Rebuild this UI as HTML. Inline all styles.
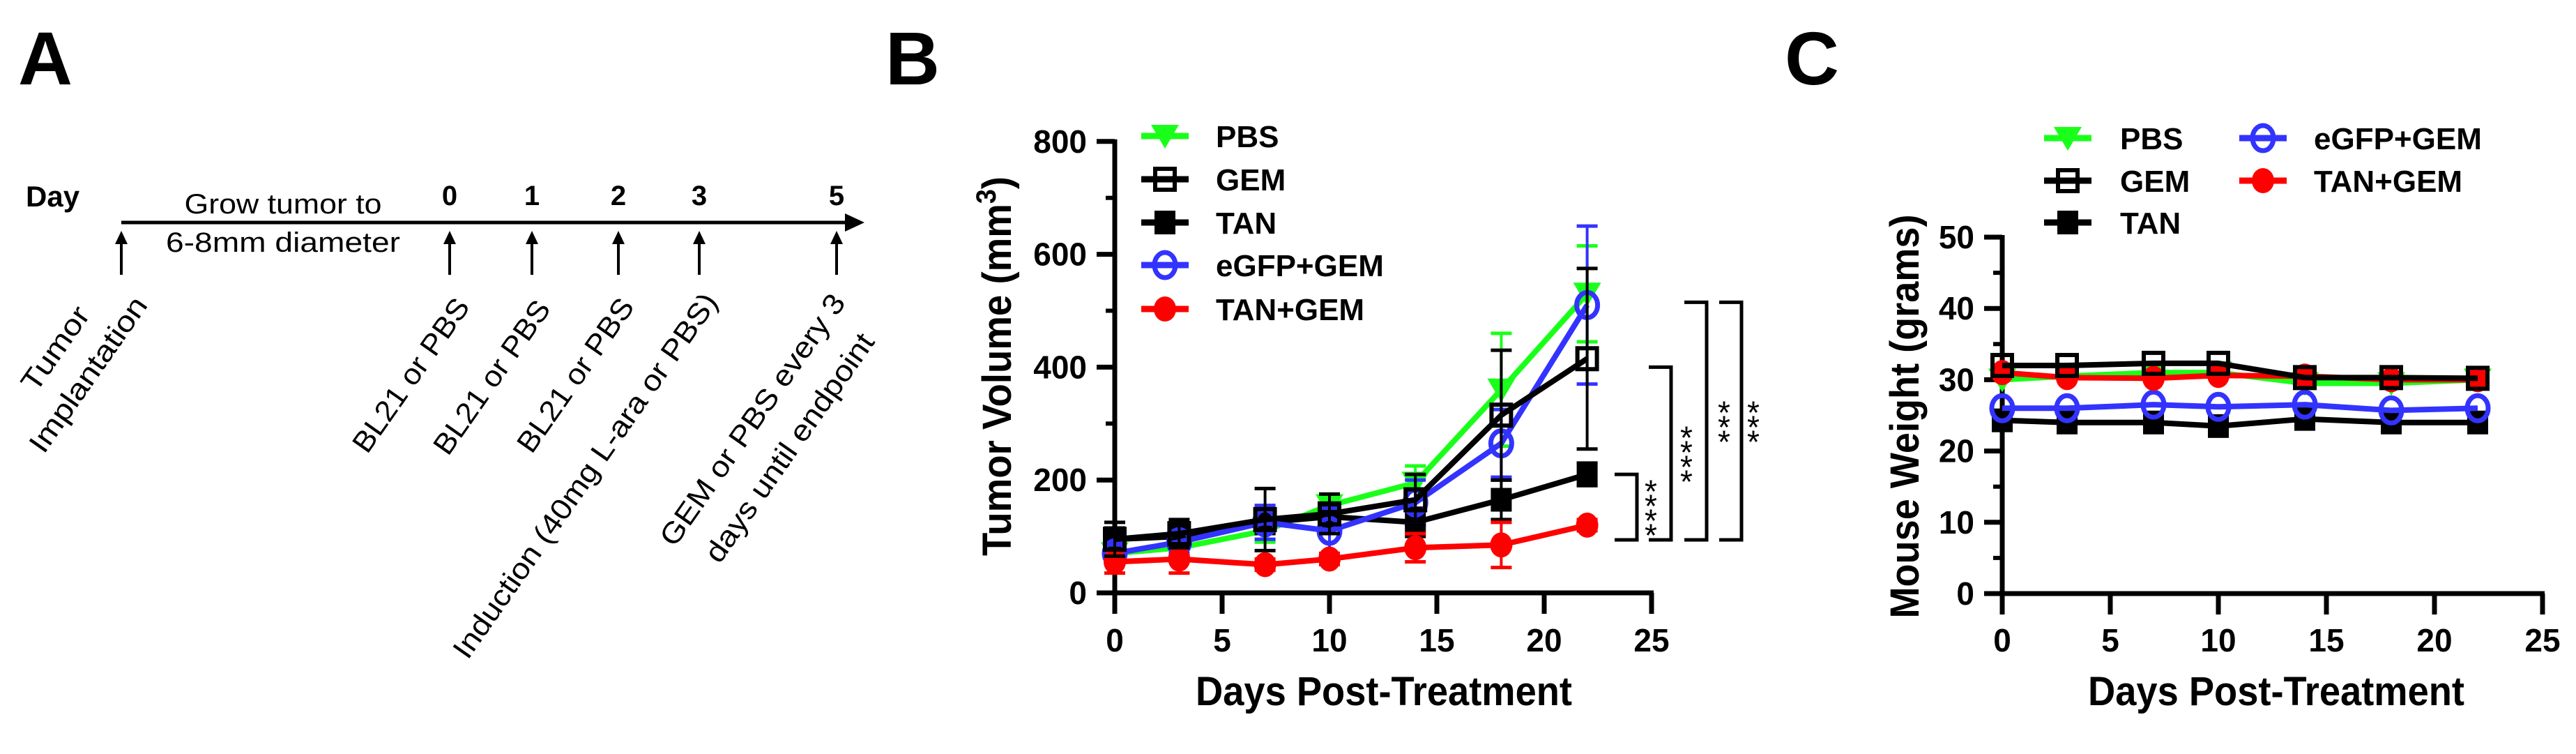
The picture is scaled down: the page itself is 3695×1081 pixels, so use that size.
<!DOCTYPE html>
<html><head><meta charset="utf-8"><style>
html,body{margin:0;padding:0;background:#fff;}
svg{display:block;}
text{font-family:"Liberation Sans",Arial,sans-serif;}
.b{font-weight:bold;}
</style></head><body>
<svg id="fig" width="3695" height="1081" viewBox="0 0 3695 1081" xmlns="http://www.w3.org/2000/svg">
<rect width="3695" height="1081" fill="#fff"/>
<text class="b" x="26" y="121" font-size="108">A</text>
<text class="b" x="1270" y="121" font-size="108">B</text>
<text class="b" x="2560" y="121" font-size="108">C</text>

<g id="panelA">
<text class="b" x="37" y="296" font-size="42">Day</text>
<line x1="174" y1="319" x2="1215" y2="319" stroke="#000" stroke-width="5"/>
<polygon points="1240,319 1212,306 1212,332" fill="#000"/>
<text x="406" y="306" font-size="40" text-anchor="middle" textLength="283" lengthAdjust="spacingAndGlyphs">Grow tumor to</text>
<text x="406" y="361" font-size="40" text-anchor="middle" textLength="336" lengthAdjust="spacingAndGlyphs">6-8mm diameter</text>
</g>

<g id="panelB"></g>
<g id="panelC"></g>
</svg>
<script>
const NS="http://www.w3.org/2000/svg";
function mk(parent,tag,attrs,txt){const e=document.createElementNS(NS,tag);for(const k in attrs)e.setAttribute(k,attrs[k]);if(txt!==undefined)e.textContent=txt;parent.appendChild(e);return e;}

// ---------- Panel A timeline data ----------
const timelineDays=["0","1","2","3","5"];
const timelineX=[645,763,887,1003,1200];
const A=document.getElementById('panelA');
function arrow(x,name){
  const g=mk(A,'g',{});
  
  
  mk(g,'line',{x1:x,y1:394,x2:x,y2:345,stroke:'#000','stroke-width':4});
  mk(g,'polygon',{points:`${x},331 ${x-9},350 ${x+9},350`,fill:'#000'});
}
arrow(174,'implantation-arrow');
timelineDays.forEach((d,i)=>{
  arrow(timelineX[i],'day-'+d+'-arrow');
  const t=mk(A,'text',{x:timelineX[i],y:294,'font-size':40,'text-anchor':'middle','class':'b'},d);
  
  
});
const rot=[
 ["Tumor",91,508,138,"tumor-implantation-label"],
 ["Implantation",138,545,262,"tumor-implantation-label-2"],
 ["BL21 or PBS",601,546,259,"day0-treatment-label"],
 ["BL21 or PBS",717,549,259,"day1-treatment-label"],
 ["BL21 or PBS",837,546,259,"day2-treatment-label"],
 ["Induction (40mg L-ara or PBS)",851,690,628,"induction-label"],
 ["GEM or PBS every 3",1091,610,430,"gem-schedule-label"],
 ["days until endpoint",1144,650,390,"gem-schedule-label-2"]
];
rot.forEach(r=>{
  const t=mk(A,'text',{x:r[1],y:r[2],'font-size':42,'text-anchor':'middle',textLength:r[3],lengthAdjust:'spacingAndGlyphs',transform:`rotate(-55 ${r[1]} ${r[2]})`},r[0]);
  
  
});

// ---------- Chart data ----------
const days=[0,3,7,10,14,18,22];
const seriesNames=["PBS","GEM","TAN","eGFP+GEM","TAN+GEM"];
const volPBS=[70,80,110,155,195,360,530];
const volGEM=[95,105,130,140,165,315,415];
const volTAN=[95,100,125,135,125,165,210];
const volEGFP=[70,90,125,110,160,265,510];
const volTANGEM=[55,60,50,60,80,85,120];
const errPBS=[10,15,20,20,30,100,85];
const errGEM=[30,25,55,35,45,115,160];
const errTAN=[20,15,20,15,25,35,20];
const errEGFP=[15,20,30,40,40,60,140];
const errTANGEM=[20,25,10,10,25,40,10];
const wPBS=[30,30.5,31,31,29.5,29.5,30];
const wGEM=[32,32,32.3,32.3,30.3,30.3,30.2];
const wTAN=[24.3,24,24,23.5,24.5,24,24];
const wEGFP=[26,26,26.5,26.2,26.5,25.7,26];
const wTANGEM=[31,30.3,30.2,30.6,30.5,30,30];
const xTicks=[0,5,10,15,20,25];
const yTicksB=[0,200,400,600,800];
const yTicksC=[0,10,20,30,40,50];
// significance: [lowerValue, upperValue, label]
const sigLow=[120,120,120,120];
const sigHigh=[210,400,515,515];
const sigLabel=["****","****","***","***"];

const styles={
 "PBS":{c:"#1aff1a",m:"tri"},
 "GEM":{c:"#000",m:"osq"},
 "TAN":{c:"#000",m:"sq"},
 "eGFP+GEM":{c:"#3333ff",m:"oc"},
 "TAN+GEM":{c:"#ff0000",m:"c"}
};
function marker(g,type,col,x,y){
  if(type==='tri') return mk(g,'polygon',{points:`${x-20},${y-16} ${x+20},${y-16} ${x},${y+18}`,fill:col});
  if(type==='osq') return mk(g,'rect',{x:x-14,y:y-15,width:28,height:30,fill:'none',stroke:col,'stroke-width':6});
  if(type==='sq') return mk(g,'rect',{x:x-15,y:y-17,width:30,height:34,fill:col});
  if(type==='oc') return mk(g,'ellipse',{cx:x,cy:y,rx:15,ry:18,fill:'none',stroke:col,'stroke-width':7});
  return mk(g,'ellipse',{cx:x,cy:y,rx:16,ry:18,fill:col});
}

function chart(id,cfg){
  const P=document.getElementById(id);
  const X=v=>cfg.x0+v*cfg.dx, Y=v=>cfg.y0-v*cfg.dy;
  const ax=mk(P,'g',{});
  
  
  mk(ax,'line',{x1:cfg.x0,y1:Y(cfg.ymax)-3,x2:cfg.x0,y2:cfg.y0+3,stroke:'#000','stroke-width':7});
  mk(ax,'line',{x1:cfg.x0-3,y1:cfg.y0,x2:X(25)+3,y2:cfg.y0,stroke:'#000','stroke-width':7});
  xTicks.forEach(t=>{
    mk(ax,'line',{x1:X(t),y1:cfg.y0,x2:X(t),y2:cfg.y0+30,stroke:'#000','stroke-width':7});
    const tl=mk(ax,'text',{x:X(t),y:934,'font-size':46,'text-anchor':'middle','class':'b'},t);
    
    
  });
  cfg.yt.forEach((t,i)=>{
    mk(ax,'line',{x1:cfg.x0-26,y1:Y(t),x2:cfg.x0,y2:Y(t),stroke:'#000','stroke-width':7});
    if(i<cfg.yt.length-1){const m=(t+cfg.yt[i+1])/2;mk(ax,'line',{x1:cfg.x0-13,y1:Y(m),x2:cfg.x0,y2:Y(m),stroke:'#000','stroke-width':6});}
    const tl=mk(ax,'text',{x:cfg.x0-40,y:Y(t)+16,'font-size':46,'text-anchor':'end','class':'b'},t);
    
    
  });
  const xt=mk(P,'text',{x:cfg.xtx,y:1011,'font-size':58,'text-anchor':'middle','class':'b',textLength:540,lengthAdjust:'spacingAndGlyphs'},'Days Post-Treatment');
  
  
  const yt=mk(P,'text',{x:cfg.ytx,y:cfg.yty,'font-size':58,'text-anchor':'middle','class':'b',textLength:cfg.ytl,lengthAdjust:'spacingAndGlyphs',transform:`rotate(-90 ${cfg.ytx} ${cfg.yty})`});
  
  
  if(cfg.sup){yt.appendChild(document.createTextNode('Tumor Volume (mm'));const s=mk(yt,'tspan',{dy:-22,'font-size':40},'3');mk(yt,'tspan',{dy:22},')');}
  else yt.textContent='Mouse Weight (grams)';

  cfg.order.forEach(name=>{
    const st=styles[name], vals=cfg.data[name], errs=cfg.err[name];
    const g=mk(P,'g',{});
    
    
    if(errs){days.forEach((d,i)=>{
      const x=X(d),yu=Y(vals[i]+errs[i]),yl=Y(vals[i]-errs[i]);
      mk(g,'line',{x1:x,y1:yu,x2:x,y2:yl,stroke:st.c,'stroke-width':4});
      mk(g,'line',{x1:x-15,y1:yu,x2:x+15,y2:yu,stroke:st.c,'stroke-width':5});
      mk(g,'line',{x1:x-15,y1:yl,x2:x+15,y2:yl,stroke:st.c,'stroke-width':5});
    });}
    mk(g,'polyline',{points:days.map((d,i)=>X(d)+','+Y(vals[i])).join(' '),fill:'none',stroke:st.c,'stroke-width':8,'stroke-linejoin':'round'});
    days.forEach((d,i)=>{
      const m=marker(g,st.m,st.c,X(d),Y(vals[i]));
      
      
    });
  });
  cfg.legend.forEach(L=>{
    const st=styles[L[0]];
    const g=mk(P,'g',{});
    
    
    mk(g,'line',{x1:L[1]-34,y1:L[2],x2:L[1]+34,y2:L[2],stroke:st.c,'stroke-width':9});
    marker(g,st.m,st.c,L[1],L[2]);
    mk(g,'text',{x:L[3],y:L[2]+16,'font-size':44,'class':'b'},L[0]);
  });
  return {X,Y,P};
}

const B=chart('panelB',{x0:1599,dx:30.8,y0:850,dy:0.809,ymax:800,yt:yTicksB,xtx:1985,ytx:1450,yty:525,ytl:544,sup:true,
 order:["PBS","TAN","eGFP+GEM","TAN+GEM","GEM"],
 data:{"PBS":volPBS,"GEM":volGEM,"TAN":volTAN,"eGFP+GEM":volEGFP,"TAN+GEM":volTANGEM},
 err:{"PBS":errPBS,"GEM":errGEM,"TAN":errTAN,"eGFP+GEM":errEGFP,"TAN+GEM":errTANGEM},
 legend:[["PBS",1671,195,1744],["GEM",1671,257,1744],["TAN",1671,319,1744],["eGFP+GEM",1671,380,1744],["TAN+GEM",1671,443,1744]]});

const bx=[2316,2365,2416,2466], lx=[2368,2419,2473,2515];
sigLow.forEach((lo,i)=>{
  const g=mk(B.P,'g',{});
  
  
  const yT=B.Y(sigHigh[i]), yB=774;
  mk(g,'polyline',{points:`${bx[i]},${yT} ${bx[i]+32},${yT} ${bx[i]+32},${yB} ${bx[i]},${yB}`,fill:'none',stroke:'#000','stroke-width':5});
  const ym=(yT+yB)/2;
  const n=sigLabel[i].length;
  const lab=mk(g,'g',{});
  
  
  for(let k=0;k<n;k++){
    const cy=ym+(k-(n-1)/2)*21;
    mk(lab,'text',{x:lx[i],y:cy+25,'font-size':46,'text-anchor':'middle'},'*');
  }
});

chart('panelC',{x0:2872,dx:31,y0:851,dy:10.22,ymax:50,yt:yTicksC,xtx:3265,ytx:2752,yty:597,ytl:579,sup:false,
 order:["PBS","TAN","eGFP+GEM","TAN+GEM","GEM"],
 data:{"PBS":wPBS,"GEM":wGEM,"TAN":wTAN,"eGFP+GEM":wEGFP,"TAN+GEM":wTANGEM},
 err:{},
 legend:[["PBS",2966,198,3041],["GEM",2966,259,3041],["TAN",2966,319,3041],["eGFP+GEM",3246,198,3319],["TAN+GEM",3246,259,3319]]});
</script>
</body></html>
